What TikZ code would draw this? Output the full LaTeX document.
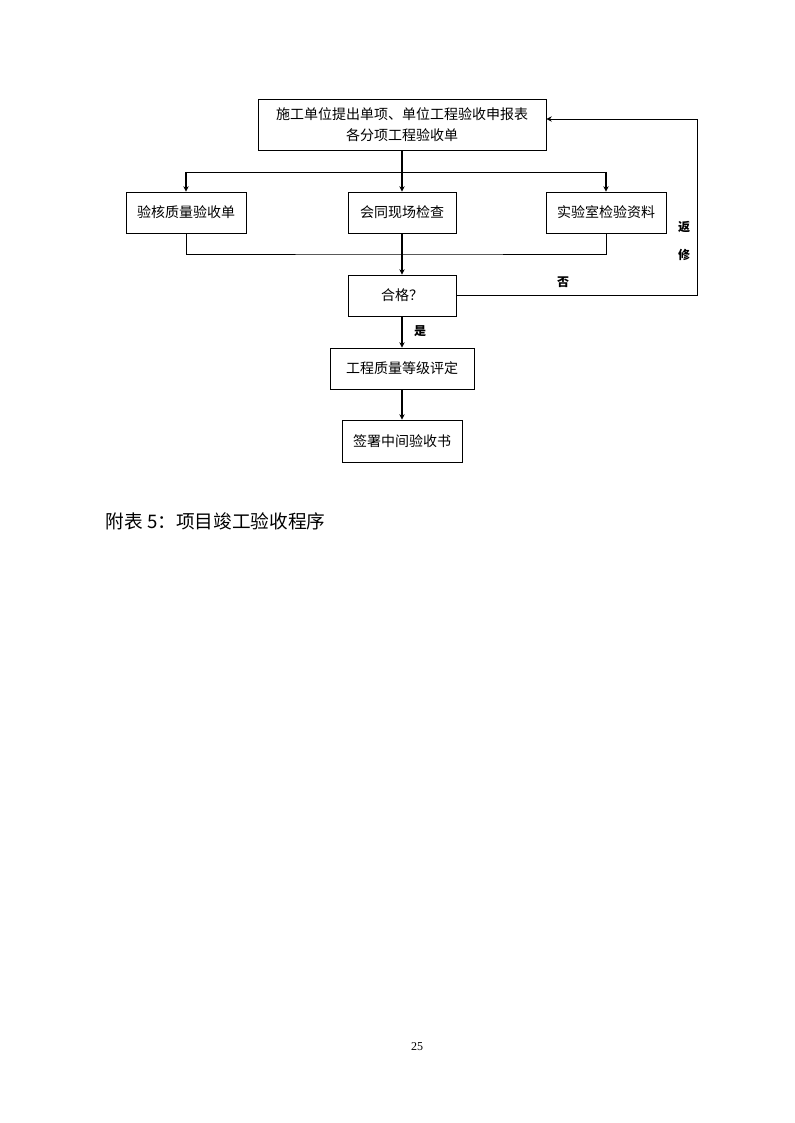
\documentclass[tikz,border=0pt]{standalone}
\usepackage{fontspec}
\setmainfont{Liberation Serif}
\newfontfamily\cjk{Noto Sans CJK SC}
\usetikzlibrary{arrows.meta}

\tikzset{
  box/.style={draw,line width=.7pt,inner sep=0pt,align=center,minimum height=30.75pt,
    font=\cjk\fontsize{10.5}{15.75}\selectfont},
  flow/.style={line width=1.5pt,-{Stealth[length=4pt,width=4pt]}},
  link/.style={line width=.7pt},
  tag/.style={font=\cjk\bfseries\fontsize{9}{9}\selectfont}
}

\begin{document}
\begin{tikzpicture}[x=.75pt,y=-.75pt]
\useasboundingbox (0,0) rectangle (794,1123);

\node[box,minimum width=216pt,minimum height=38.25pt] (shenbao) at (402,124.5)
  {施工单位提出单项、单位工程验收申报表\\各分项工程验收单};
\node[box,minimum width=90pt] (yanhe)  at (186,212.5) {验核质量验收单};
\node[box,minimum width=81pt] (xianchang) at (402,212.5) {会同现场检查};
\node[box,minimum width=90pt] (shiyan) at (606,212.5) {实验室检验资料};
\node[box,minimum width=81pt] (hege)   at (402,295.5) {合格？};
\node[box,minimum width=108pt] (dengji) at (402,368.5) {工程质量等级评定};
\node[box,minimum width=90pt,minimum height=31.5pt] (qianshu) at (402,441) {签署中间验收书};

\coordinate (fen) at (402,172);
\coordinate (he)  at (402,254);
\coordinate (fan) at (697,119);

\draw[link] (yanhe.north |- fen) -- (shiyan.north |- fen);
\draw[flow] (shenbao) -- (xianchang.north);
\foreach \n in {yanhe,shiyan}
  \draw[flow] (\n.north |- fen) -- (\n.north);

\draw[link] (yanhe.south) |- (he) -| (shiyan.south);
\draw[flow] (xianchang.south) -- (hege.north);
\draw[flow] (hege.south) -- (dengji.north);
\draw[flow] (dengji.south) -- (qianshu.north);

\draw[link,-{Stealth[length=4pt,width=4pt]}] (hege.east) -| (fan) -- (shenbao.east |- fan);

\node[tag] (fou) at (563,282) {否};
\node[tag] (shi) at (420,331) {是};
\node[tag] (fan1) at (684,227) {返};
\node[tag] (xiu) at (684,255) {修};

\node[anchor=west,font=\cjk\fontsize{14}{14}\selectfont] (biaoti) at (101,521)
  {附表 5：项目竣工验收程序};
\node[font=\fontsize{9}{9}\selectfont] (yema) at (417,1047) {25};
\end{tikzpicture}
\end{document}
